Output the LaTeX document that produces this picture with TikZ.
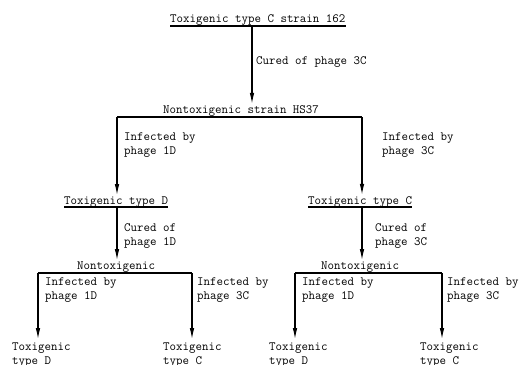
\documentclass[tikz,border=0pt]{standalone}
\usepackage{fontspec}
\usetikzlibrary{arrows.meta}

\begin{document}
\begin{tikzpicture}[x=1pt, y=-1pt]
    % Define styles
    \tikzstyle{strain} = [inner sep=0pt, anchor=base west, align=left, font=\ttfamily\fontsize{12.6}{14}\selectfont]
    \tikzstyle{arrow} = [line width=1.1pt, -{Latex[length=11pt,width=4.5pt]}, shorten >=1pt]
    \tikzstyle{bar} = [line width=1.1pt]

    \useasboundingbox (0,0) rectangle (519,364);

    % Nodes (base anchor = last line of the text)
    \node[strain] (c162) at (170,22) {Toxigenic type C strain 162};
    \node[strain] (hs37) at (163,113) {Nontoxigenic strain HS37};
    \node[strain] (typeD) at (64,204) {Toxigenic type D};
    \node[strain] (typeC) at (308,204) {Toxigenic type C};
    \node[strain] (nontoxD) at (77,269) {Nontoxigenic};
    \node[strain] (nontoxC) at (321,269) {Nontoxigenic};
    \node[strain] (endDD) at (12,364) {Toxigenic\\type D};
    \node[strain] (endDC) at (163,364) {Toxigenic\\type C};
    \node[strain] (endCD) at (269,364) {Toxigenic\\type D};
    \node[strain] (endCC) at (420,364) {Toxigenic\\type C};

    % Labels
    \node[strain] (cure3C) at (256,64) {Cured of phage 3C};
    \node[strain] (infD) at (124,154) {Infected by\\phage 1D};
    \node[strain] (infC) at (382,154) {Infected by\\phage 3C};
    \node[strain] (cureD) at (124,245) {Cured of\\phage 1D};
    \node[strain] (cureC) at (375,245) {Cured of\\phage 3C};
    \node[strain] (infDD) at (45,299) {Infected by\\phage 1D};
    \node[strain] (infDC) at (197,299) {Infected by\\phage 3C};
    \node[strain] (infCD) at (302,299) {Infected by\\phage 1D};
    \node[strain] (infCC) at (447,299) {Infected by\\phage 3C};

    % Underlines and splits
    \draw[bar] ([yshift=-4pt]c162.base west) -- ([yshift=-4pt]c162.base east);
    \draw[bar] ([yshift=-3pt]typeD.base west) -- ([yshift=-3pt]typeD.base east);
    \draw[bar] ([yshift=-3pt]typeC.base west) -- ([yshift=-3pt]typeC.base east);
    \coordinate (top) at (252,26);
    \coordinate (splitL) at (117,117);
    \coordinate (splitR) at (362,117);
    \coordinate (midD) at (117,207);
    \coordinate (midC) at (362,207);
    \coordinate (lowDL) at (38,273);
    \coordinate (lowDR) at (192,273);
    \coordinate (lowCL) at (295,273);
    \coordinate (lowCR) at (442,273);
    \draw[bar] (splitL) -- (splitR);
    \draw[bar] (lowDL) -- (lowDR);
    \draw[bar] (lowCL) -- (lowCR);

    % Arrows
    \draw[arrow] (top) -- (top |- hs37.north);
    \draw[arrow] (splitL) -- (splitL |- typeD.north);
    \draw[arrow] (splitR) -- (splitR |- typeC.north);
    \draw[arrow] (midD) -- (midD |- nontoxD.north);
    \draw[arrow] (midC) -- (midC |- nontoxC.north);
    \draw[arrow, shorten >=3pt] (lowDL) -- (lowDL |- endDD.north);
    \draw[arrow, shorten >=3pt] (lowDR) -- (lowDR |- endDC.north);
    \draw[arrow, shorten >=3pt] (lowCL) -- (lowCL |- endCD.north);
    \draw[arrow, shorten >=3pt] (lowCR) -- (lowCR |- endCC.north);
\end{tikzpicture}
\end{document}
